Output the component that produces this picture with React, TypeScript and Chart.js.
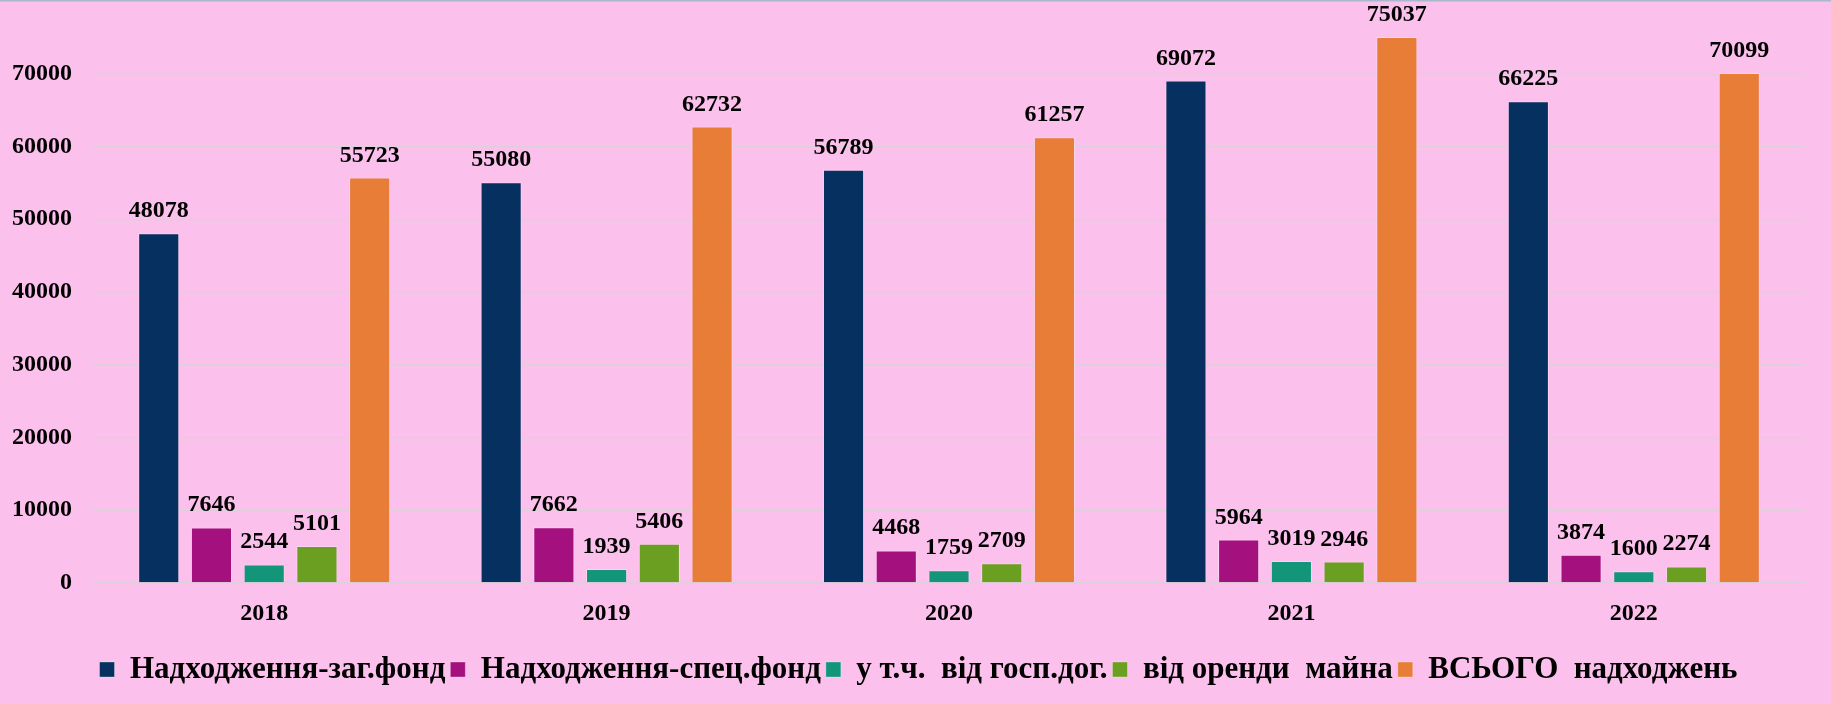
import React, { useEffect, useRef } from "react";
import { Chart, registerables } from "chart.js";

Chart.register(...registerables);

const years = ["2018", "2019", "2020", "2021", "2022"];
const seriesNames = [
  "Надходження-заг.фонд",
  "Надходження-спец.фонд",
  "у т.ч.  від госп.дог.",
  "від оренди  майна",
  "ВСЬОГО  надходжень",
];
const zagFond = [48078, 55080, 56789, 69072, 66225];
const specFond = [7646, 7662, 4468, 5964, 3874];
const gospDog = [2544, 1939, 1759, 3019, 1600];
const orenda = [5101, 5406, 2709, 2946, 2274];
const vsogo = [55723, 62732, 61257, 75037, 70099];
const seriesColors = ["#06305F", "#A5107F", "#13957A", "#6A9F22", "#E87D38"];
const yTicks = [0, 10000, 20000, 30000, 40000, 50000, 60000, 70000, 80000];

const FONT = "'Liberation Serif', 'Times New Roman', serif";

const bgPlugin = {
  id: "bgPlugin",
  beforeDraw(chart: any) {
    const { ctx, width, height } = chart;
    ctx.save();
    ctx.fillStyle = "#FBC0EB";
    ctx.fillRect(0, 0, width, height);
    ctx.fillStyle = "#A9B9CC";
    ctx.fillRect(0, 0, width, 1.5);
    ctx.restore();
  },
};

const legendShiftPlugin = {
  id: "legendShift",
  afterLayout(chart: any) {
    const lg = chart.legend;
    if (lg) {
      lg.left += 16;
      lg.right += 16;
    }
  },
};

const labelPlugin = {
  id: "labelPlugin",
  afterDatasetsDraw(chart: any) {
    const { ctx } = chart;
    ctx.save();
    ctx.font = `bold 24px ${FONT}`;
    ctx.fillStyle = "#000";
    ctx.textAlign = "center";
    ctx.textBaseline = "alphabetic";
    chart.data.datasets.forEach((ds: any, i: number) => {
      const meta = chart.getDatasetMeta(i);
      meta.data.forEach((el: any, j: number) => {
        ctx.fillText(String(ds.data[j]), el.x, el.y - 16);
      });
    });
    ctx.restore();
  },
};

export default function App() {
  const ref = useRef<HTMLCanvasElement>(null);
  useEffect(() => {
    document.body.style.margin = "0";
    const allData = [zagFond, specFond, gospDog, orenda, vsogo];
    const chart = new Chart(ref.current!, {
      type: "bar",
      data: {
        labels: years,
        datasets: allData.map((d, i) => ({
          label: seriesNames[i],
          data: d,
          backgroundColor: seriesColors[i],
          borderColor: "rgba(255,255,255,0.3)",
          borderWidth: 1,
          categoryPercentage: 0.77,
          barPercentage: 0.78,
        })),
      },
      options: {
        animation: false,
        responsive: false,
        maintainAspectRatio: false,
        layout: { padding: { top: 1, right: 26, left: 0, bottom: 9 } },
        plugins: {
          tooltip: { enabled: false },
          legend: {
            position: "bottom",
            labels: {
              boxWidth: 15,
              boxHeight: 15,
              padding: 5,
              color: "#000",
              font: { family: FONT, size: 31, weight: "bold" },
            },
          },
        },
        scales: {
          x: {
            grid: { display: false },
            border: { display: false },
            ticks: {
              color: "#000",
              padding: 8,
              font: { family: FONT, size: 24, weight: "bold" },
            },
            afterFit(scale: any) {
              scale.height = 66;
              scale.paddingLeft = 0;
              scale.paddingRight = 0;
            },
          },
          y: {
            min: 0,
            max: 80000,
            afterBuildTicks(scale: any) {
              scale.ticks = yTicks.map((v) => ({ value: v }));
            },
            grid: {
              drawTicks: false,
              color: (c: any) => (c.tick && c.tick.value === 80000 ? "rgba(0,0,0,0)" : "#DDD0DA"),
              lineWidth: 1.5,
            },
            border: { display: false },
            ticks: {
              color: "#000",
              padding: 21,
              font: { family: FONT, size: 24, weight: "bold" },
              callback: (v: any) => (v === 80000 ? "" : String(v)),
            },
            afterFit(scale: any) {
              scale.width = 93;
              scale.paddingTop = 0;
              scale.paddingBottom = 0;
            },
          },
        },
      },
      plugins: [bgPlugin, legendShiftPlugin, labelPlugin],
    });
    return () => chart.destroy();
  }, []);
  return (
    <div style={{ width: 1831, height: 704 }}>
      <canvas ref={ref} width={1831} height={704} style={{ display: "block" }} />
    </div>
  );
}
